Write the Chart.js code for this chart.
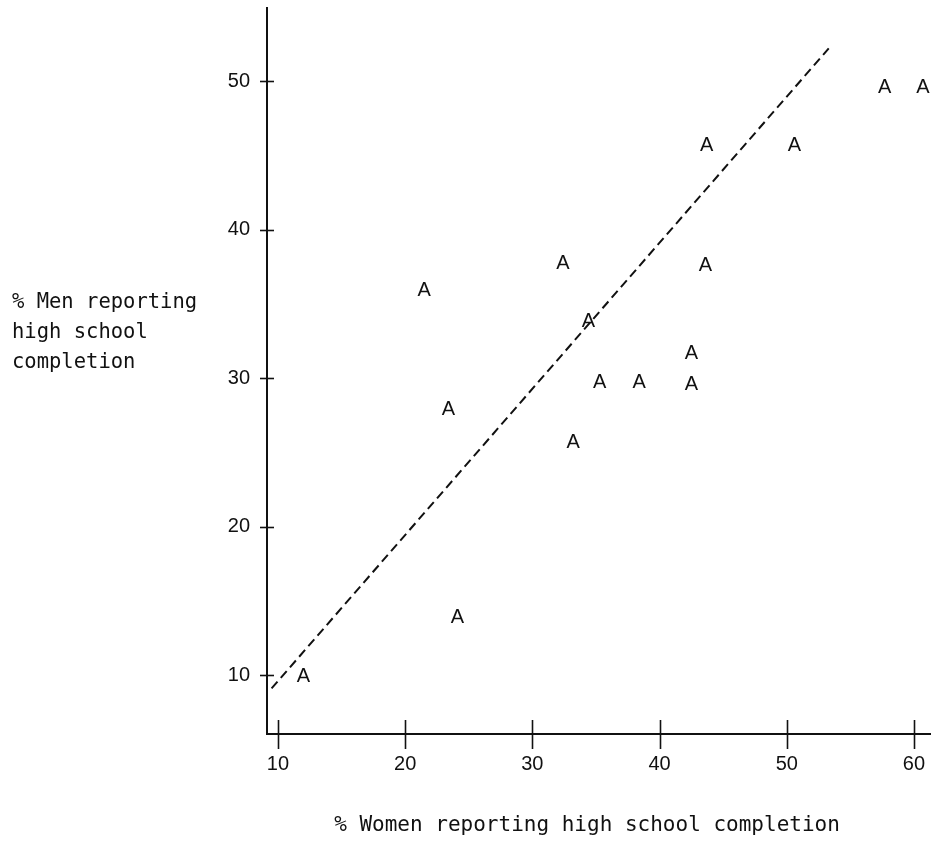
<!DOCTYPE html>
<html>
<head>
<meta charset="utf-8">
<title>High school completion: men vs women</title>
<script src="https://cdn.jsdelivr.net/npm/chart.js@4/dist/chart.umd.min.js"></script>
<style>
  html, body { margin: 0; padding: 0; background: #ffffff; }
  #wrap { width: 935px; height: 846px; position: relative; }
</style>
</head>
<body>
<div id="wrap"><canvas id="chart"></canvas></div>
<script>
// % of women (x) and men (y) reporting high school completion, one "A" per unit
const womenPct = [12.0, 24.1, 23.4, 21.5, 32.4, 34.4, 33.2, 35.3, 38.4, 42.5, 42.5, 43.6, 43.7, 50.6, 57.7, 60.7];
const menPct   = [10.0, 14.0, 28.0, 36.0, 37.8, 33.9, 25.8, 29.8, 29.8, 29.7, 31.8, 37.7, 45.8, 45.8, 49.7, 49.7];
const markerLabel = 'A';

// Dashed reference line, start and end points
const refLineX = [9.5, 53.3];
const refLineY = [9.1, 52.2];

// Axis ticks and titles
const xTicks = [10, 20, 30, 40, 50, 60];
const yTicks = [10, 20, 30, 40, 50];
const xTitle = '% Women reporting high school completion';
const yTitleLines = ['% Men reporting', 'high school', 'completion'];

const INK = '#111111';
const SANS = '"Liberation Sans", Arial, Helvetica, sans-serif';
const MONO = '"DejaVu Sans Mono", monospace';

const points = womenPct.map((x, i) => ({ x: x, y: menPct[i] }));
const refLine = refLineX.map((x, i) => ({ x: x, y: refLineY[i] }));

// Letters drawn at each scatter point, plus crossing tick marks and titles
const decorations = {
  id: 'decorations',
  afterDatasetsDraw(chart) {
    const ctx = chart.ctx;
    const xs = chart.scales.x, ys = chart.scales.y;
    const area = chart.chartArea;
    ctx.save();

    // tick marks that cross the axis lines
    ctx.strokeStyle = INK;
    ctx.lineWidth = 1.6;
    xTicks.forEach(v => {
      const px = Math.round(xs.getPixelForValue(v)) + 0.5;
      ctx.beginPath();
      ctx.moveTo(px, area.bottom - 14);
      ctx.lineTo(px, area.bottom + 15);
      ctx.stroke();
    });
    yTicks.forEach(v => {
      const py = Math.round(ys.getPixelForValue(v)) + 0.5;
      ctx.beginPath();
      ctx.moveTo(area.left - 7, py);
      ctx.lineTo(area.left + 7, py);
      ctx.stroke();
    });

    // plotting symbols
    const meta = chart.getDatasetMeta(0);
    ctx.fillStyle = INK;
    ctx.font = '20px ' + SANS;
    ctx.textAlign = 'center';
    ctx.textBaseline = 'alphabetic';
    meta.data.forEach(el => {
      ctx.fillText(markerLabel, el.x, el.y + 7.2);
    });

    // axis titles
    ctx.font = '20.5px ' + MONO;
    ctx.textAlign = 'left';
    ctx.textBaseline = 'middle';
    yTitleLines.forEach((line, i) => {
      ctx.fillText(line, 12, 303 + i * 30);
    });
    ctx.font = '21px ' + MONO;
    ctx.textAlign = 'center';
    ctx.fillText(xTitle, 587, 826);

    ctx.restore();
  }
};

new Chart(document.getElementById('chart'), {
  type: 'scatter',
  data: {
    datasets: [
      {
        label: 'units',
        data: points,
        pointRadius: 0,
        pointHoverRadius: 0,
        showLine: false
      },
      {
        type: 'line',
        label: 'reference',
        data: refLine,
        borderColor: INK,
        borderWidth: 2,
        borderDash: [9, 5],
        pointRadius: 0,
        fill: false,
        tension: 0
      }
    ]
  },
  options: {
    responsive: true,
    maintainAspectRatio: false,
    animation: false,
    events: [],
    layout: { autoPadding: false, padding: { top: 8, right: 5, left: 0, bottom: 0 } },
    plugins: {
      legend: { display: false },
      tooltip: { enabled: false },
      title: { display: false }
    },
    scales: {
      x: {
        type: 'linear',
        min: 9.14,
        max: 61.26,
        afterBuildTicks: s => { s.ticks = xTicks.map(v => ({ value: v })); },
        afterFit: s => { s.height = 112; s.paddingLeft = 0; s.paddingRight = 0; },
        grid: { display: false },
        border: { display: true, color: INK, width: 2 },
        ticks: {
          color: INK,
          font: { family: SANS, size: 20 },
          padding: 10,
          maxRotation: 0,
          autoSkip: false
        },
        title: { display: false }
      },
      y: {
        type: 'linear',
        min: 6.03,
        max: 54.92,
        afterBuildTicks: s => { s.ticks = yTicks.map(v => ({ value: v })); },
        afterFit: s => { s.width = 267; s.paddingTop = 0; s.paddingBottom = 0; },
        grid: { display: false },
        border: { display: true, color: INK, width: 2 },
        ticks: {
          color: INK,
          font: { family: SANS, size: 20 },
          padding: 9,
          autoSkip: false
        },
        title: { display: false }
      }
    }
  },
  plugins: [decorations]
});
</script>
</body>
</html>
